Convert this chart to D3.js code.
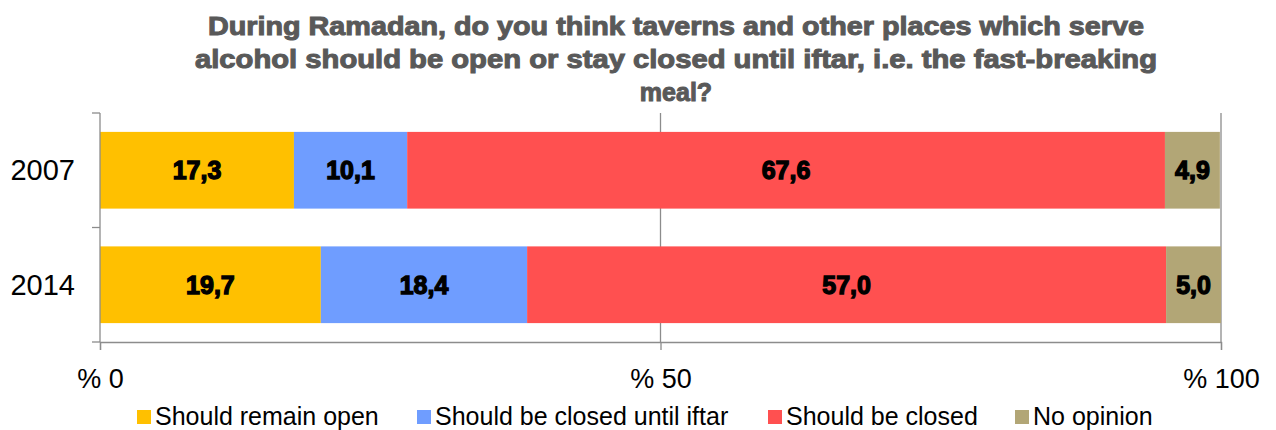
<!DOCTYPE html>
<html>
<head>
<meta charset="utf-8">
<script src="https://cdn.jsdelivr.net/npm/d3@7"></script>
<style>
  html, body { margin: 0; padding: 0; background: #fff; }
  svg { display: block; }
</style>
</head>
<body>
<svg id="chart" width="1276" height="430"></svg>
<script>
// Survey years (categories) and answer shares in percent
const years = ["2007", "2014"];
const seriesNames = ["Should remain open", "Should be closed until iftar", "Should be closed", "No opinion"];
const remainOpen = [17.3, 19.7];
const closedUntilIftar = [10.1, 18.4];
const closed = [67.6, 57.0];
const noOpinion = [4.9, 5.0];
const xTicks = [0, 50, 100];
const titleLines = [
  "During Ramadan, do you think taverns and other places which serve",
  "alcohol should be open or stay closed until iftar, i.e. the fast-breaking",
  "meal?"
];

const colors = ["#FFC000", "#6F9DFF", "#FF5050", "#B2A676"];
const seriesValues = [remainOpen, closedUntilIftar, closed, noOpinion];

const svg = d3.select("#chart");
const plotLeft = 100, plotRight = 1221, plotTop = 113, plotBottom = 342;

const x = d3.scaleLinear().domain([0, 100]).range([plotLeft, plotRight]);
const y = d3.scaleBand().domain(years).range([plotTop, plotBottom]).paddingInner(0.33).paddingOuter(0.165);

// Title
const titleWidths = [936, 962, null];
const title = svg.append("g");
titleLines.forEach((line, i) => {
  const t = title.append("text")
    .attr("x", 676)
    .attr("y", 35 + i * 33)
    .attr("text-anchor", "middle")
    .attr("font-family", "Liberation Sans, Arial, sans-serif")
    .attr("font-weight", "bold")
    .attr("font-size", 25)
    .attr("fill", "#595959")
    .style("stroke", "#595959").style("stroke-width", 1)
    .text(line);
  if (titleWidths[i]) t.attr("textLength", titleWidths[i]).attr("lengthAdjust", "spacingAndGlyphs");
});

// Vertical gridlines
svg.append("g")
  .selectAll("line")
  .data(xTicks.filter(d => d > 0))
  .join("line")
  .attr("x1", d => x(d)).attr("x2", d => x(d))
  .attr("y1", plotTop).attr("y2", plotBottom)
  .attr("stroke", "#8c8c8c").attr("stroke-width", 1.3);

// Stacked bars
const rows = years.map((yr, i) => {
  let acc = 0;
  return seriesValues.map((vals, s) => {
    const seg = { year: yr, s, v: vals[i], x0: acc, x1: acc + vals[i] };
    acc += vals[i];
    return seg;
  });
}).flat();

svg.append("g")
  .selectAll("rect")
  .data(rows)
  .join("rect")
  .attr("x", d => x(d.x0))
  .attr("width", d => Math.min(x(d.x1), plotRight) - x(d.x0))
  .attr("y", d => y(d.year))
  .attr("height", y.bandwidth())
  .attr("fill", d => colors[d.s]);

// Value labels
svg.append("g")
  .selectAll("text")
  .data(rows)
  .join("text")
  .attr("x", d => (x(d.x0) + Math.min(x(d.x1), plotRight)) / 2)
  .attr("y", d => y(d.year) + y.bandwidth() / 2 + 9)
  .attr("text-anchor", "middle")
  .attr("font-family", "Liberation Sans, Arial, sans-serif")
  .attr("font-weight", "bold")
  .attr("font-size", 25)
  .attr("fill", "#000")
  .style("stroke", "#000").style("stroke-width", 1.3)
  .text(d => d.v.toFixed(1).replace(".", ","));

// Y axis
const yAxis = svg.append("g").attr("transform", `translate(${plotLeft},0)`);
yAxis.append("line").attr("x1", 0).attr("x2", 0).attr("y1", plotTop).attr("y2", plotBottom)
  .attr("stroke", "#8c8c8c").attr("stroke-width", 1.3);
const yBounds = [plotTop, (y("2007") + y.bandwidth() + y("2014")) / 2, plotBottom];
yAxis.selectAll("line.tick").data(yBounds).join("line").attr("class", "tick")
  .attr("x1", -8).attr("x2", 0).attr("y1", d => d).attr("y2", d => d)
  .attr("stroke", "#8c8c8c").attr("stroke-width", 1.3);
yAxis.selectAll("text").data(years).join("text")
  .attr("x", -25)
  .attr("y", d => y(d) + y.bandwidth() / 2 + 10)
  .attr("text-anchor", "end")
  .attr("font-family", "Liberation Sans, Arial, sans-serif")
  .attr("font-size", 29)
  .attr("fill", "#000")
  .text(d => d);

// X axis
const xAxis = svg.append("g").attr("transform", `translate(0,${plotBottom})`)
  .call(d3.axisBottom(x).tickValues(xTicks).tickSize(8).tickFormat(d => "% " + d));
xAxis.select(".domain").attr("stroke", "#8c8c8c").attr("stroke-width", 1.3);
xAxis.selectAll(".tick line").attr("stroke", "#8c8c8c").attr("stroke-width", 1.3);
xAxis.selectAll(".tick text")
  .attr("y", 46)
  .attr("dy", null)
  .attr("font-family", "Liberation Sans, Arial, sans-serif")
  .attr("font-size", 27)
  .attr("fill", "#000");

// Legend
const legendX = [137, 417, 768, 1015];
const legend = svg.append("g").selectAll("g").data(seriesNames).join("g")
  .attr("transform", (d, i) => `translate(${legendX[i]},0)`);
legend.append("rect").attr("x", 0).attr("y", 410).attr("width", 14).attr("height", 14)
  .attr("fill", (d, i) => colors[i]);
legend.append("text").attr("x", 18).attr("y", 425)
  .attr("font-family", "Liberation Sans, Arial, sans-serif")
  .attr("font-size", 25)
  .attr("fill", "#000")
  .text(d => d);
</script>
</body>
</html>
